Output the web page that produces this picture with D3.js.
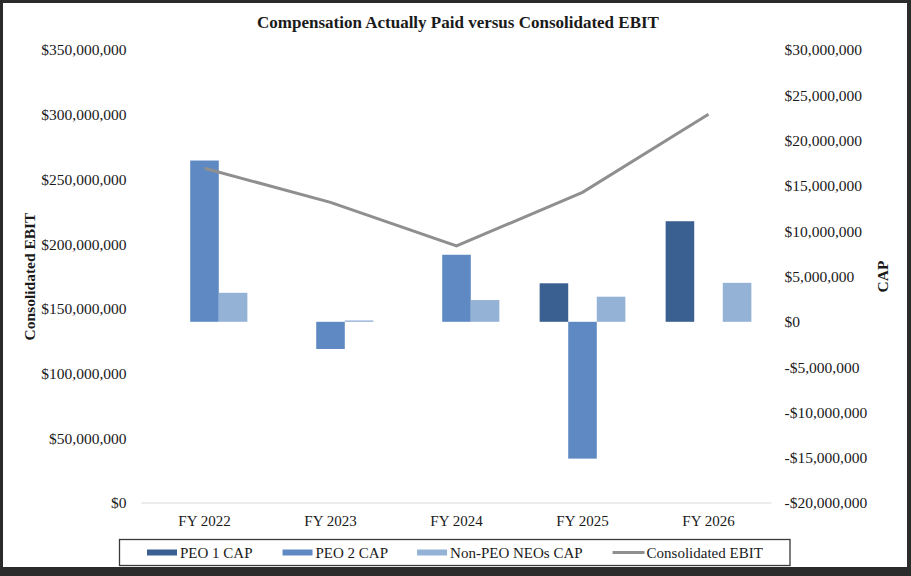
<!DOCTYPE html>
<html>
<head>
<meta charset="utf-8">
<script src="https://cdn.jsdelivr.net/npm/d3@7"></script>
<style>
  html, body { margin: 0; padding: 0; background: #2b2b2b; }
  svg text { font-family: "Liberation Serif", "Times New Roman", serif; fill: #1a1a1a; }
</style>
</head>
<body>
<svg id="capChart"></svg>
<script>
// values
const years = ["FY 2022", "FY 2023", "FY 2024", "FY 2025", "FY 2026"];
const seriesNames = ["PEO 1 CAP", "PEO 2 CAP", "Non-PEO NEOs CAP"];
const peo1Cap = [null, null, null, 4250000, 11100000];
const peo2Cap = [17800000, -3000000, 7400000, -15100000, null];
const nonPeoCap = [3200000, 150000, 2400000, 2770000, 4300000];
const consolidatedEbit = [258600000, 232300000, 198600000, 240000000, 300300000];
const leftTicks = [0, 50e6, 100e6, 150e6, 200e6, 250e6, 300e6, 350e6];
const rightTicks = [-20e6, -15e6, -10e6, -5e6, 0, 5e6, 10e6, 15e6, 20e6, 25e6, 30e6];

const width = 911;
const height = 576;
const margins = { top: 50, right: 139.5, bottom: 73, left: 141.5 };
const colors = ["#3a6091", "#5f89c2", "#94b2d6"];
const lineColor = "#8f8f8f";

const svg = d3.select("svg#capChart").attr("width", width).attr("height", height);

// frame
svg.append("rect").attr("x", 0).attr("y", 0).attr("width", width).attr("height", height).attr("fill", "#2b2b2b");
svg.append("rect").attr("x", 3).attr("y", 3).attr("width", 904).attr("height", 564).attr("fill", "#fff");

const x0 = d3.scaleBand()
  .domain(years)
  .range([margins.left, width - margins.right]);

const x1 = d3.scaleBand()
  .domain(seriesNames)
  .range([0, x0.bandwidth()])
  .paddingOuter(0.705);

const yLeft = d3.scaleLinear()
  .domain([0, 350e6])
  .range([height - margins.bottom, margins.top]);

const yRight = d3.scaleLinear()
  .domain([-20e6, 30e6])
  .range([height - margins.bottom, margins.top]);

const money = (v) => (v < 0 ? "-$" : "$") + d3.format(",")(Math.abs(v));

// title
svg.append("text")
  .attr("x", 458)
  .attr("y", 28)
  .attr("text-anchor", "middle")
  .attr("font-size", 17)
  .attr("font-weight", "bold")
  .text("Compensation Actually Paid versus Consolidated EBIT");

// baseline gridline (only the $0 one shows)
svg.append("line")
  .attr("x1", x0.range()[0])
  .attr("x2", x0.range()[1])
  .attr("y1", yLeft(0))
  .attr("y2", yLeft(0))
  .attr("stroke", "#d9d9d9")
  .attr("stroke-width", 1);

// left axis
const leftAxis = svg.append("g")
  .attr("transform", `translate(${margins.left - 15},0)`)
  .call(d3.axisLeft(yLeft).tickValues(leftTicks).tickFormat(money).tickSize(0).tickPadding(0));
leftAxis.select(".domain").remove();
leftAxis.selectAll("text")
  .attr("font-size", 15.5)
  .attr("font-family", "Liberation Serif")
  .attr("fill", "#1a1a1a");

// right axis
const rightAxis = svg.append("g")
  .attr("transform", `translate(${width - margins.right + 13},0)`)
  .call(d3.axisRight(yRight).tickValues(rightTicks).tickFormat(money).tickSize(0).tickPadding(0));
rightAxis.select(".domain").remove();
rightAxis.selectAll("text")
  .attr("font-size", 15.5)
  .attr("font-family", "Liberation Serif")
  .attr("fill", "#1a1a1a");

// category labels
const xAxis = svg.append("g")
  .attr("transform", `translate(0,${yLeft(0)})`)
  .call(d3.axisBottom(x0).tickSize(0).tickPadding(12));
xAxis.select(".domain").remove();
xAxis.selectAll("text")
  .attr("font-size", 15)
  .attr("font-family", "Liberation Serif")
  .attr("fill", "#1a1a1a");

// axis titles
svg.append("text")
  .attr("transform", `translate(35,${(yLeft.range()[0] + yLeft.range()[1]) / 2}) rotate(-90)`)
  .attr("text-anchor", "middle")
  .attr("font-size", 15.5)
  .attr("font-weight", "bold")
  .text("Consolidated EBIT");

svg.append("text")
  .attr("transform", `translate(888,${(yRight.range()[0] + yRight.range()[1]) / 2}) rotate(-90)`)
  .attr("text-anchor", "middle")
  .attr("font-size", 15.5)
  .attr("font-weight", "bold")
  .text("CAP");

// bars
const capSeries = [peo1Cap, peo2Cap, nonPeoCap];
const barData = [];
years.forEach((yr, i) => {
  capSeries.forEach((s, j) => {
    if (s[i] !== null) barData.push({ year: yr, series: seriesNames[j], value: s[i], idx: j });
  });
});
console.log(barData);

svg.append("g")
  .selectAll("rect")
  .data(barData)
  .join("rect")
  .attr("x", (d) => x0(d.year) + x1(d.series))
  .attr("width", x1.bandwidth())
  .attr("y", (d) => yRight(Math.max(0, d.value)))
  .attr("height", (d) => Math.abs(yRight(d.value) - yRight(0)))
  .attr("fill", (d) => colors[d.idx]);

// EBIT line
const ebitLine = d3.line()
  .x((d, i) => x0(years[i]) + x0.bandwidth() / 2)
  .y((d) => yLeft(d));

svg.append("path")
  .attr("d", ebitLine(consolidatedEbit))
  .attr("fill", "none")
  .attr("stroke", lineColor)
  .attr("stroke-width", 3);

// legend
const legend = svg.append("g");
legend.append("rect")
  .attr("x", 119.5)
  .attr("y", 539.5)
  .attr("width", 670.5)
  .attr("height", 26)
  .attr("fill", "#fff")
  .attr("stroke", "#3a3a3a")
  .attr("stroke-width", 1.3);

const legendItems = seriesNames.map((n, i) => ({ name: n, color: colors[i], kind: "bar" }));
legendItems.push({ name: "Consolidated EBIT", color: lineColor, kind: "line" });

let lx = 147;
const gaps = [30, 29, 30, 0];
legendItems.forEach((item, i) => {
  if (item.kind === "bar") {
    legend.append("rect")
      .attr("x", lx)
      .attr("y", 549.5)
      .attr("width", 30)
      .attr("height", 6)
      .attr("fill", item.color);
  } else {
    legend.append("line")
      .attr("x1", lx)
      .attr("x2", lx + 32)
      .attr("y1", 552.5)
      .attr("y2", 552.5)
      .attr("stroke", item.color)
      .attr("stroke-width", 3);
  }
  const t = legend.append("text")
    .attr("x", lx + (item.kind === "bar" ? 33 : 34))
    .attr("y", 557.5)
    .attr("font-size", 15)
    .text(item.name);
  lx = lx + 33 + t.node().getComputedTextLength() + gaps[i];
});
</script>
</body>
</html>
